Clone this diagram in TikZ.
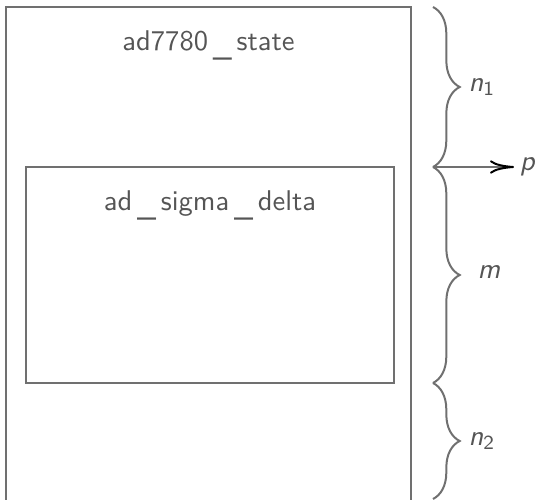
\documentclass[tikz,border=0pt]{standalone}
\usetikzlibrary{positioning,arrows.meta,decorations.pathreplacing}
\definecolor{linegray}{HTML}{707070}
\definecolor{textgray}{HTML}{555555}
\newcommand{\usc}{\,\raisebox{-2pt}{\_}\,}
\tikzset{
  box/.style={draw=linegray, line width=0.75pt, rectangle, inner sep=0pt},
  title/.style={text=textgray, font=\sffamily\fontsize{10.7}{13}\selectfont, inner sep=0pt},
  bracelabel/.style={text=textgray, font=\sffamily\itshape\fontsize{10.7}{13}\selectfont, inner sep=0pt, anchor=west},
  bracepath/.style={draw=linegray, line width=0.75pt, decorate, decoration={brace, amplitude=10pt}}
}
\begin{document}
\begin{tikzpicture}[x=0.375pt, y=-0.375pt]
\useasboundingbox (0,0) rectangle (538,500);

% the two structures
\node[box, minimum width=151.875pt, minimum height=186pt] (state) at (208.5,255) {};
\node[box, minimum width=138pt, minimum height=81pt] (sigma) at (210,275) {};
\node[title, below=9pt of state.north] (statename) {ad7780\usc state};
\node[title, below=9pt of sigma.north] (sigmaname) {ad\usc sigma\usc delta};

% sizes
\coordinate (b0) at (433,7);
\coordinate (b1) at (433,167);
\coordinate (b2) at (433,383);
\coordinate (b3) at (433,499);
\draw[bracepath] (b0) -- (b1);
\draw[bracepath] (b1) -- (b2);
\draw[bracepath] (b2) -- (b3);
\node[bracelabel] (n1) at (468,87) {n\textsubscript{\upshape 1}};
\node[bracelabel] (m) at (477,272) {m};
\node[bracelabel] (n2) at (468,441) {n\textsubscript{\upshape 2}};

% pointer
\coordinate (pend) at (514,167);
\draw[draw=linegray, line width=0.75pt, -{To[black, length=9pt, width=5pt]}] (b1) -- (pend);
\node[bracelabel, anchor=west, inner sep=0pt] (p) at ([xshift=2pt]pend) {p};
\end{tikzpicture}
\end{document}
